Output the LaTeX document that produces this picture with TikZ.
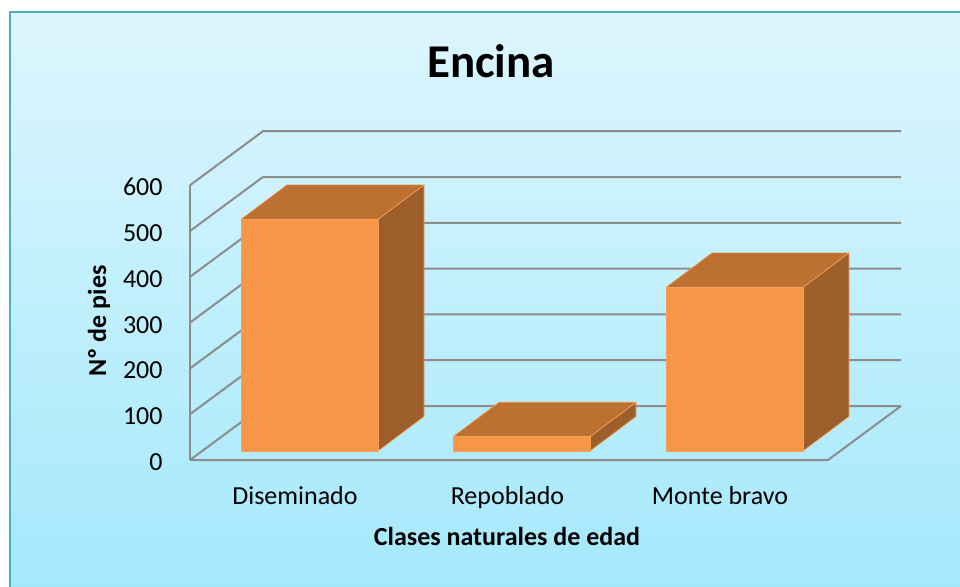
\documentclass[tikz,border=0pt]{standalone}
\usepackage{fontspec}
\setmainfont{Carlito}
\usetikzlibrary{calc,positioning}

\definecolor{bordeFondo}{HTML}{4BACC6}
\definecolor{fondoArriba}{HTML}{DDF6FD}
\definecolor{fondoAbajo}{HTML}{A3E8FC}
\definecolor{gris}{HTML}{8C8C8C}
\definecolor{caraFrente}{HTML}{F79646}
\definecolor{caraArriba}{HTML}{BC7133}
\definecolor{caraLado}{HTML}{9C5F2C}

\tikzset{
  lineaRejilla/.style={draw=gris,line width=1pt},
  cara/.style={draw=caraFrente!90!white,line width=0.3pt,line join=round},
  etiq/.style={font=\fontsize{13}{15}\selectfont,inner sep=0pt},
  etiqN/.style={font=\fontsize{13}{15}\selectfont\bfseries,inner sep=0pt},
  titulo/.style={font=\fontsize{23.5}{28}\selectfont\bfseries,inner sep=0pt}
}

\begin{document}
\begin{tikzpicture}[x=0.5pt,y=-0.5pt]
\useasboundingbox (0,0) rectangle (960,586);
\fill[white] (0,0) rectangle (960,586);
\shade[top color=fondoArriba,bottom color=fondoAbajo] (10,12) rectangle (972,600);
\draw[bordeFondo,line width=1.2pt] (10,12) rectangle (972,600);

\coordinate (O) at (190,460);
\coordinate (P) at (263,406);
\coordinate (Q) at (828,460);
\coordinate (R) at (901,406);

% paredes y rejilla
\foreach \k in {0,...,6}{
  \draw[lineaRejilla] ($(O)+(0,-45.8*\k)$) -- ($(P)+(0,-45.8*\k)$) -- ($(R)+(0,-45.8*\k)$);
  \node[etiq,anchor=base east] (v\k) at ($(O)+(-27,-45.8*\k+10.5)$) {\the\numexpr100*\k\relax};
}
\draw[lineaRejilla] (O) -- (Q) -- (R);
\draw[lineaRejilla] (O) -- ++(0,-274.8);

% barras
\foreach \x/\h in {241/231.7,453/14.3,666/163.7}{
  \fill[caraLado,cara] (\x+137,451) -- ++(46,-34.5) -- ++(0,-\h) -- ++(-46,34.5) -- cycle;
  \fill[caraArriba,cara] (\x,451-\h) -- ++(137,0) -- ++(46,-34.5) -- ++(-137,0) -- cycle;
  \fill[caraFrente,cara] (\x,451) rectangle (\x+137,451-\h);
}

\node[etiq,anchor=base] (dis) at (295,504) {Diseminado};
\node[etiq,anchor=base] (rep) at (507.5,504) {Repoblado};
\node[etiq,anchor=base] (mon) at (720,504) {Monte bravo};

\node[etiqN,anchor=base] (ejex) at (507,545) {Clases naturales de edad};
\node[etiqN,anchor=base,rotate=90] (ejey) at (106,321) {Nº de pies};
\node[titulo,anchor=base] (tit) at (491,77.7) {Encina};

\end{tikzpicture}
\end{document}
